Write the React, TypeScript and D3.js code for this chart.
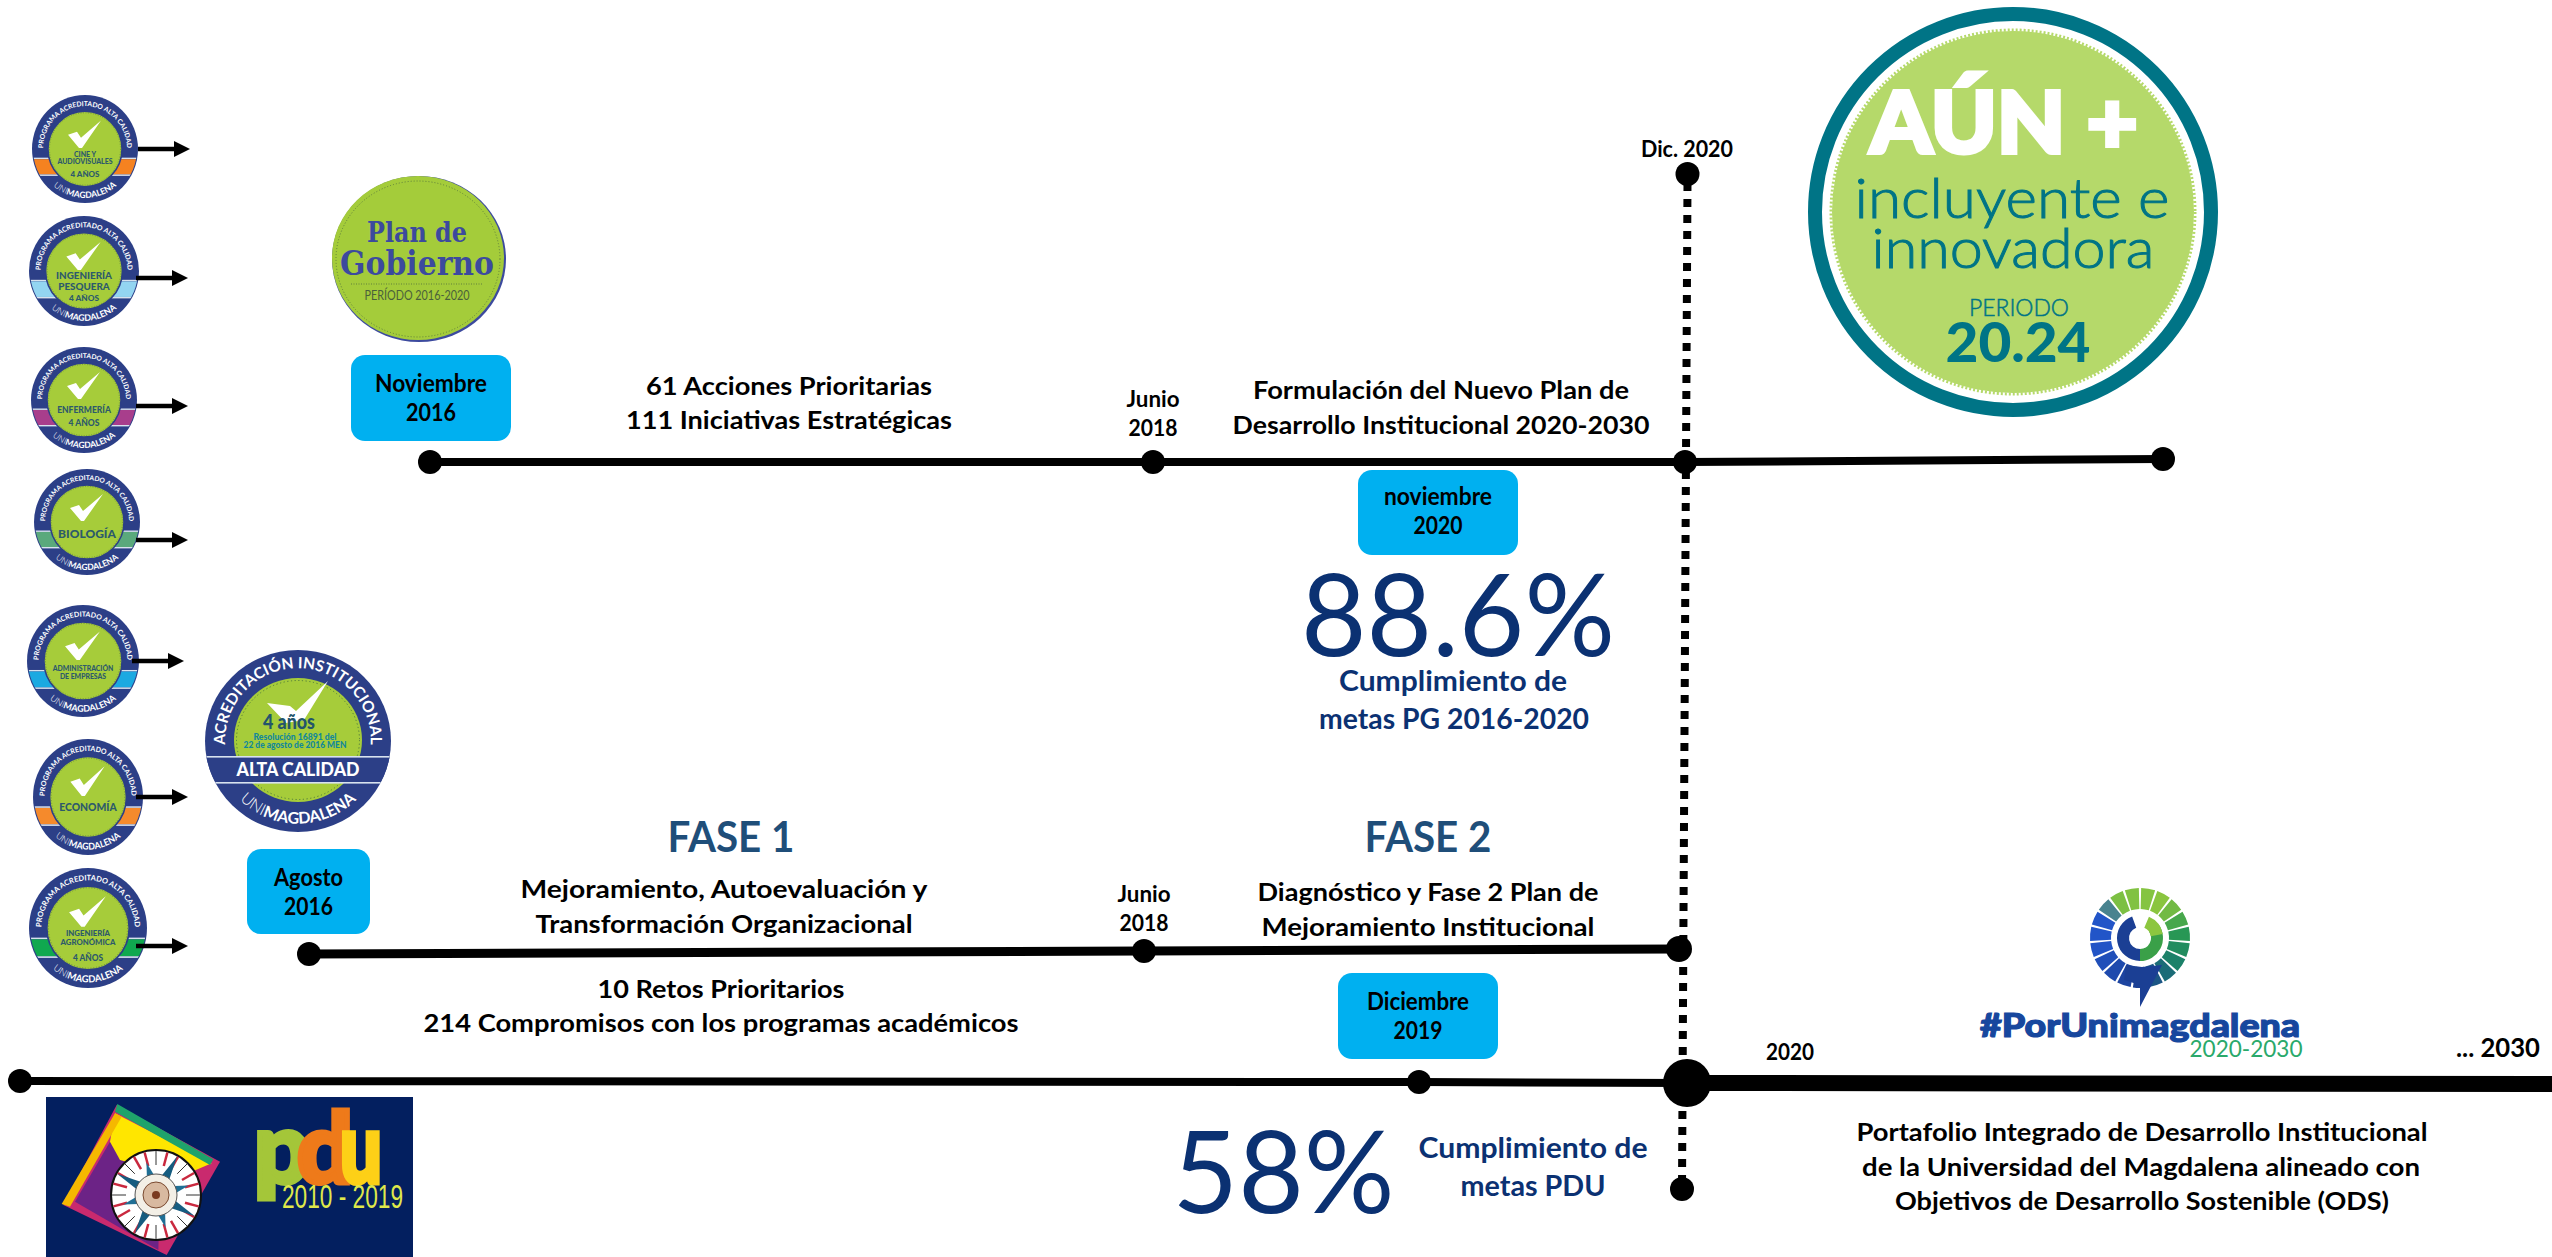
import React from "react";
import * as d3 from "d3";

// ---------- DATA ----------
const topDates = [2016.83, 2018.42, 2020.92, 2024];
const midDates = [2016.62, 2018.42, 2020.92];
const lowDates = [2010, 2019.92, 2020.92, 2030];
const programNames = [
  ["CINE Y", "AUDIOVISUALES", "4 AÑOS"],
  ["INGENIERÍA", "PESQUERA", "4 AÑOS"],
  ["ENFERMERÍA", "4 AÑOS"],
  ["BIOLOGÍA"],
  ["ADMINISTRACIÓN", "DE EMPRESAS"],
  ["ECONOMÍA"],
  ["INGENIERÍA", "AGRONÓMICA", "4 AÑOS"],
];
const programBands = ["#f58220", "#93d5f1", "#a83e8c", "#5aa97c", "#1ba9e1", "#f58a2c", "#10a84f"];
const dateBoxLabels = [
  ["Noviembre", "2016"],
  ["noviembre", "2020"],
  ["Agosto", "2016"],
  ["Diciembre", "2019"],
];
const pgGoal = "88.6%";
const pduGoal = "58%";

// ---------- LAYOUT (separate from the data) ----------
const W = 2552;
const H = 1257;
const FONT = "Lato, Carlito, sans-serif";
const NAVY = "#0b3172";
const FASE = "#1f4e79";
const BOX = "#00b0f0";
const TEAL = "#007486";

const xTop = d3.scaleLinear().domain(topDates).range([430, 1153, 1685, 2163]);
const yTop = d3.scaleLinear().domain(topDates).range([462, 462, 462, 459]);
const xMid = d3.scaleLinear().domain(midDates).range([309, 1144, 1679]);
const yMid = d3.scaleLinear().domain(midDates).range([954, 951, 949]);
const xLow = d3.scaleLinear().domain(lowDates).range([20, 1419, 1687, 2552]);
const yLow = d3.scaleLinear().domain(lowDates).range([1081, 1082, 1083, 1084]);

const path2 = d3.line<number>();
const badgeGeom = [
  { cx: 85, cy: 149, rx: 53, ry: 54, ay: 149, ax: 138, sizes: [7, 7, 8], ys: [8, 15, 27] },
  { cx: 84, cy: 271, rx: 55, ry: 55, ay: 278, ax: 136, sizes: [9.5, 9.5, 8], ys: [8, 18, 29] },
  { cx: 84, cy: 400, rx: 53, ry: 53, ay: 406, ax: 136, sizes: [8.5, 8.5], ys: [13, 26] },
  { cx: 87, cy: 522, rx: 53, ry: 53, ay: 540, ax: 136, sizes: [12], ys: [16] },
  { cx: 83, cy: 661, rx: 56, ry: 56, ay: 661, ax: 132, sizes: [6.5, 6.5], ys: [9, 17] },
  { cx: 88, cy: 797, rx: 55, ry: 58, ay: 797, ax: 136, sizes: [10], ys: [13] },
  { cx: 88, cy: 928, rx: 59, ry: 60, ay: 946, ax: 136, sizes: [7, 7, 7.5], ys: [7, 15, 29] },
];

function T({ x, y, w, size, fill = "#000", weight = 700, children, family = FONT, anchor = "middle", sw = 0 }: any) {
  return (
    <text x={x} y={y} fontFamily={family} fontSize={size} fontWeight={weight} fill={fill} textAnchor={anchor}
      stroke={sw ? fill : undefined} strokeWidth={sw || undefined}
      textLength={w} lengthAdjust={w ? "spacingAndGlyphs" : undefined}>
      {children}
    </text>
  );
}

function DateBox({ x0, x1, y0, y1, lines, b0, b1, w0, w1 }: any) {
  const c = (x0 + x1) / 2;
  return (
    <g>
      <rect x={x0} y={y0} width={x1 - x0} height={y1 - y0} rx={14} fill={BOX} />
      <T x={c} y={b0} size={24} w={w0}>{lines[0]}</T>
      <T x={c} y={b1} size={24} w={w1}>{lines[1]}</T>
    </g>
  );
}

function Badge({ i }: { i: number }) {
  const g = badgeGeom[i];
  const id = `b${i}`;
  return (
    <g>
      <g transform={`translate(${g.cx},${g.cy}) scale(${g.rx / 53},${g.ry / 53})`}>
        <circle r={53} fill="#2c3f87" />
        <clipPath id={`${id}c`}><circle r={52} /></clipPath>
        <g clipPath={`url(#${id}c)`}>
          <rect x={-53} y={8.5} width={106} height={1.4} fill="#d8e2ee" />
          <rect x={-53} y={10} width={106} height={15} fill={programBands[i]} />
          <rect x={-53} y={25} width={106} height={1.4} fill="#d8e2ee" />
        </g>
        <circle r={37} fill="#a6cc3a" stroke="#2c3f87" strokeWidth={1.5} />
        <circle r={35.5} fill="none" stroke="#5d7c3a" strokeWidth={0.6} strokeDasharray="1 1.5" />
        <path d="M-17,-14 L-8,-17 L-4,-11 L16,-28 L-3,-1 L-6,-1 Z" fill="#fff" />
        <path id={`${id}t`} d="M-41.8,4 A42,42 0 1 1 41.8,4" fill="none" />
        <text fontFamily={FONT} fontSize={6.7} fontWeight={700} fill="#fff" textAnchor="middle">
          <textPath href={`#${id}t`} startOffset="50%">PROGRAMA ACREDITADO ALTA CALIDAD</textPath>
        </text>
        <path id={`${id}u`} d="M-37.5,30 A48,48 0 0 0 37.5,30" fill="none" />
        <text fontFamily={FONT} fontSize={8.5} fontWeight={700} fill="#fff" textAnchor="middle">
          <textPath href={`#${id}u`} startOffset="50%"><tspan fontWeight={300}>UNI</tspan>MAGDALENA</textPath>
        </text>
        {programNames[i].map((s, k) => (
          <text key={k} y={g.ys[k]} fontFamily={FONT} fontSize={g.sizes[k]} fontWeight={900} fill="#2d5a6b" textAnchor="middle">{s}</text>
        ))}
      </g>
      <path d={path2([[g.ax, g.ay], [g.ax + 38, g.ay]])!} stroke="#000" strokeWidth={4.5} fill="none" />
      <path d={`M${g.ax + 36},${g.ay - 8}L${g.ax + 52},${g.ay}L${g.ax + 36},${g.ay + 8}Z`} fill="#000" />
    </g>
  );
}

function BigBadge() {
  return (
    <g transform="translate(298,741)">
      <ellipse rx={93} ry={91} fill="#2c3f87" />
      <ellipse rx={64} ry={62} cy={-1} fill="#a6cc3a" />
      <ellipse rx={61.5} ry={59.5} cy={-1} fill="none" stroke="#4f7a3a" strokeWidth={1} strokeDasharray="1.2 2.5" />
      <clipPath id="bigClip"><ellipse rx={93} ry={91} /></clipPath>
      <g clipPath="url(#bigClip)">
        <rect x={-93} y={15} width={186} height={27} fill="#2c3f87" />
        <rect x={-93} y={15} width={186} height={1.6} fill="#d8e2ee" />
        <rect x={-93} y={41} width={186} height={1.6} fill="#d8e2ee" />
      </g>
      <path d="M-31,-38 L-8,-35 L-2,-30 L30,-60 L6,-21 L-12,-18 Z" fill="#fff" />
      <path id="bigT" d="M-71.8,12 A72.8,72.8 0 1 1 71.8,12" fill="none" />
      <text fontFamily={FONT} fontSize={15.5} fontWeight={700} fill="#fff" textAnchor="middle">
        <textPath href="#bigT" startOffset="50%">ACREDITACIÓN INSTITUCIONAL</textPath>
      </text>
      <path id="bigU" d="M-60,57 A83,83 0 0 0 60,57" fill="none" />
      <text fontFamily={FONT} fontSize={16} fontWeight={700} fill="#fff" textAnchor="middle">
        <textPath href="#bigU" startOffset="50%"><tspan fontWeight={300}>UNI</tspan>MAGDALENA</textPath>
      </text>
      <T x={-9} y={-12} size={20} w={52} fill="#24556b" weight={900}>4 años</T>
      <T x={-3} y={-1} size={8.5} w={83} fill="#12889a" weight={900}>Resolución 16891 del</T>
      <T x={-3} y={7} size={8.5} w={103} fill="#12889a" weight={900}>22 de agosto de 2016 MEN</T>
      <T x={0} y={35} size={19} w={123} fill="#fff" weight={900}>ALTA CALIDAD</T>
    </g>
  );
}

function PlanBadge() {
  return (
    <g transform="translate(419,259)">
      <ellipse rx={87} ry={83} fill="#3c4a9e" />
      <ellipse rx={86} ry={82} cx={-1} cy={-1} fill="#a4cc3a" />
      <ellipse rx={82} ry={78} cx={-1} fill="none" stroke="#5f7f3a" strokeWidth={1} strokeDasharray="1 2" />
      <T x={-2} y={-17} size={27} w={100} fill="#3c4a9e" family="DejaVu Serif, serif">Plan de</T>
      <T x={-2} y={16} size={34} w={154} fill="#3c4a9e" family="DejaVu Serif, serif">Gobierno</T>
      <line x1={-68} x2={63} y1={25} y2={25} stroke="#5f7f3a" strokeWidth={1} strokeDasharray="1 1.5" />
      <T x={-2} y={41} size={12.5} w={105} fill="#4a5f3a" weight={400}>PERÍODO 2016-2020</T>
    </g>
  );
}

function AunBadge() {
  return (
    <g>
      <circle cx={2013} cy={212} r={198} fill="#fff" stroke={TEAL} strokeWidth={14} />
      <circle cx={2013} cy={212} r={181} fill="#b5d96a" />
      <circle cx={2013} cy={212} r={182} fill="none" stroke="#b5d96a" strokeWidth={3} strokeDasharray="2 2" />
      <T x={2004} y={153} size={86} w={268} fill="#fff" weight={900} sw={4}>AÚN +</T>
      <T x={2012} y={218} size={56} w={315} fill={TEAL} weight={300} sw={1}>incluyente e</T>
      <T x={2013} y={268} size={56} w={283} fill={TEAL} weight={300} sw={1}>innovadora</T>
      <T x={2019} y={316} size={23} w={100} fill={TEAL} weight={300} sw={0.5}>PERIODO</T>
      <T x={2018} y={362} size={56} w={145} fill={TEAL} weight={900}>20.24</T>
    </g>
  );
}

const arcGen = d3.arc();
const segCount = 19;
const segColor = d3.scaleLinear<string>()
  .domain([0, 0.22, 0.33, 0.42, 0.6, 0.72, 0.85, 1])
  .range(["#1b3f94", "#2255c8", "#2255c8", "#7cc043", "#8cc63f", "#2a9a52", "#1b7f6a", "#1b3f94"]);

function UniLogo() {
  const step = (2 * Math.PI) / segCount;
  return (
    <g>
      <g transform="translate(2140,938)">
        {d3.range(segCount).map((k) => {
          const mid = Math.PI + k * step;
          return (
            <path key={k} fill={segColor(k / segCount)}
              d={arcGen({ innerRadius: 29, outerRadius: 50, startAngle: mid - step * 0.43, endAngle: mid + step * 0.43 } as any)!} />
          );
        })}
        <path d="M-14,27 L2,29 L22,27 L0,69 L0,47 L-16,42 Z" fill="#1b3f94" />
        <path fill="#1b3f94" d={arcGen({ innerRadius: 11, outerRadius: 23, startAngle: Math.PI, endAngle: 2 * Math.PI - 0.35 } as any)!} />
        <path fill="#3aa048" d={arcGen({ innerRadius: 11, outerRadius: 23, startAngle: 0.95, endAngle: Math.PI } as any)!} />
        <path fill="#8cc63f" d={arcGen({ innerRadius: 11, outerRadius: 23, startAngle: 0.4, endAngle: 1.4 } as any)!} />
      </g>
      <T x={2140} y={1037} size={33} w={320} fill="#17479e" weight={900} sw={1.2}>#PorUnimagdalena</T>
      <T x={2246} y={1057} size={23} w={113} fill="#2aa96b" weight={400}>2020-2030</T>
    </g>
  );
}

function PduLogo() {
  const P = (x: number, y: number) => `${20 + x / 3},${1080 + y / 3}`;
  const poly = (pts: number[][]) => pts.map((p) => P(p[0], p[1])).join(" ");
  const rays = d3.range(8).map((k) => (k * Math.PI) / 4 + 0.5);
  const spokes = d3.range(24).map((k) => (k * Math.PI) / 12);
  return (
    <g>
      <rect x={46} y={1097} width={367} height={160} fill="#031f5f" />
      <clipPath id="pduClip"><rect x={46} y={1097} width={367} height={160} /></clipPath>
      <g clipPath="url(#pduClip)">
        <polygon points={poly([[290, 75], [600, 245], [440, 525], [130, 375]])} fill="#c92a6e" />
        <polygon points={poly([[270, 185], [420, 320], [415, 510], [165, 365]])} fill="#6c2386" />
        <polygon points={poly([[285, 100], [575, 250], [480, 290], [300, 240], [270, 185]])} fill="#ffe600" />
        <polygon points={poly([[285, 100], [305, 110], [150, 380], [125, 372]])} fill="#f5b800" />
        <polygon points={poly([[292, 72], [580, 238], [570, 255], [285, 95]])} fill="#1fa36b" />
        <circle cx={156} cy={1195} r={45} fill="#fff" stroke="#111" strokeWidth={2} />
        {spokes.map((a, k) => (
          <line key={`s${k}`} x1={156 + 30 * Math.cos(a)} y1={1195 + 30 * Math.sin(a)} x2={156 + 44 * Math.cos(a)} y2={1195 + 44 * Math.sin(a)}
            stroke={k % 3 ? "#c9283e" : "#333"} strokeWidth={k % 3 ? 2.5 : 1} />
        ))}
        {rays.map((a, k) => (
          <polygon key={`r${k}`} fill={k % 2 ? "#1f6f95" : "#165c80"}
            points={`${156 + (k % 2 ? 34 : 44) * Math.cos(a)},${1195 + (k % 2 ? 34 : 44) * Math.sin(a)} ${156 + 14 * Math.cos(a + 0.4)},${1195 + 14 * Math.sin(a + 0.4)} ${156 + 14 * Math.cos(a - 0.4)},${1195 + 14 * Math.sin(a - 0.4)}`} />
        ))}
        <circle cx={156} cy={1195} r={21} fill="#f3efe6" stroke="#555" strokeWidth={1} />
        <circle cx={156} cy={1195} r={13} fill="#d8b9a0" stroke="#7a4a30" strokeWidth={1} />
        <circle cx={156} cy={1195} r={4} fill="#7a3a20" />
      </g>
      <T x={254} y={1183} size={98} w={56} fill="#a4c639" weight={900} anchor="start" sw={5}>p</T>
      <T x={297} y={1183} size={98} w={56} fill="#ee7a1a" weight={900} anchor="start" sw={5}>d</T>
      <T x={340} y={1183} size={98} w={42} fill="#fdd017" weight={900} anchor="start" sw={5}>u</T>
      <T x={282} y={1208} size={33} w={121} fill="#dfe84a" weight={400} anchor="start" family="Liberation Sans, sans-serif">2010 - 2019</T>
    </g>
  );
}

export default function App() {
  return (
    <svg width={W} height={H} viewBox={`0 0 ${W} ${H}`} style={{ position: "absolute", left: 0, top: 0, display: "block", background: "#fff" }}>
      {/* badges */}
      {programNames.map((_, i) => <Badge key={i} i={i} />)}
      <BigBadge />
      <PlanBadge />
      <AunBadge />
      <PduLogo />
      <UniLogo />

      {/* vertical dotted */}
      <path d={path2([[1687.5, 183], [1682, 1188]])!} stroke="#000" strokeWidth={8} strokeDasharray="8 8" fill="none" />
      <circle cx={1687.5} cy={174} r={12} fill="#000" />
      <circle cx={1682} cy={1189} r={12} fill="#000" />

      {/* timelines */}
      <path d={path2(topDates.map((d) => [xTop(d), yTop(d)]) as any)!} stroke="#000" strokeWidth={8} fill="none" />
      {topDates.map((d) => <circle key={d} cx={xTop(d)} cy={yTop(d)} r={12} fill="#000" />)}
      <path d={path2(midDates.map((d) => [xMid(d), yMid(d)]) as any)!} stroke="#000" strokeWidth={9} fill="none" />
      {midDates.map((d) => <circle key={d} cx={xMid(d)} cy={yMid(d)} r={d === 2020.92 ? 13 : 12} fill="#000" />)}
      <path d={path2(lowDates.slice(0, 3).map((d) => [xLow(d), yLow(d)]) as any)!} stroke="#000" strokeWidth={8} fill="none" />
      <path d={path2(lowDates.slice(2).map((d) => [xLow(d), yLow(d)]) as any)!} stroke="#000" strokeWidth={16} fill="none" />
      {lowDates.slice(0, 3).map((d, i) => <circle key={d} cx={xLow(d)} cy={yLow(d)} r={i === 2 ? 24 : 12} fill="#000" />)}

      {/* date boxes */}
      <DateBox x0={351} x1={511} y0={355} y1={441} lines={dateBoxLabels[0]} b0={392} b1={421} w0={112} w1={50} />
      <DateBox x0={1358} x1={1518} y0={470} y1={555} lines={dateBoxLabels[1]} b0={505} b1={534} w0={108} w1={49} />
      <DateBox x0={247} x1={370} y0={849} y1={934} lines={dateBoxLabels[2]} b0={886} b1={915} w0={69} w1={49} />
      <DateBox x0={1338} x1={1498} y0={973} y1={1059} lines={dateBoxLabels[3]} b0={1010} b1={1039} w0={102} w1={49} />

      {/* top line text */}
      <T x={789} y={395} size={25} w={286}>61 Acciones Prioritarias</T>
      <T x={789} y={429} size={25} w={326}>111 Iniciativas Estratégicas</T>
      <T x={1153} y={407} size={23} w={53}>Junio</T>
      <T x={1153} y={436} size={23} w={49}>2018</T>
      <T x={1441} y={399} size={25} w={376}>Formulación del Nuevo Plan de</T>
      <T x={1441} y={434} size={25} w={417}>Desarrollo Institucional 2020-2030</T>
      <T x={1687} y={157} size={23} w={92}>Dic. 2020</T>

      {/* goals */}
      <T x={1458} y={656} size={114} w={314} fill={NAVY} weight={400}>{pgGoal}</T>
      <T x={1453} y={691} size={28} w={228} fill={NAVY}>Cumplimiento de</T>
      <T x={1454} y={729} size={28} w={270} fill={NAVY}>metas PG 2016-2020</T>
      <T x={1283.5} y={1213} size={114} w={222} fill={NAVY} weight={400}>{pduGoal}</T>
      <T x={1533} y={1158} size={28} w={229} fill={NAVY}>Cumplimiento de</T>
      <T x={1533} y={1196} size={28} w={145} fill={NAVY}>metas PDU</T>

      {/* mid line text */}
      <T x={731} y={852} size={42} w={127} fill={FASE}>FASE 1</T>
      <T x={1428} y={852} size={42} w={127} fill={FASE}>FASE 2</T>
      <T x={724} y={898} size={25} w={407}>Mejoramiento, Autoevaluación  y</T>
      <T x={724} y={933} size={25} w={377}>Transformación Organizacional</T>
      <T x={1144} y={902} size={23} w={53}>Junio</T>
      <T x={1144} y={931} size={23} w={49}>2018</T>
      <T x={1428} y={901} size={25} w={341}>Diagnóstico y Fase 2 Plan de</T>
      <T x={1428} y={936} size={25} w={333}>Mejoramiento Institucional</T>
      <T x={721} y={998} size={25} w={247}>10 Retos Prioritarios</T>
      <T x={721} y={1032} size={25} w={595}>214 Compromisos con los programas académicos</T>

      {/* low line text */}
      <T x={1790} y={1060} size={23} w={48}>2020</T>
      <T x={2498} y={1057} size={27} w={84}>... 2030</T>
      <T x={2142} y={1141} size={25} w={571}>Portafolio Integrado de Desarrollo Institucional</T>
      <T x={2141} y={1176} size={25} w={558}>de la Universidad del Magdalena alineado con</T>
      <T x={2142} y={1210} size={25} w={494}>Objetivos de Desarrollo Sostenible (ODS)</T>
    </svg>
  );
}
